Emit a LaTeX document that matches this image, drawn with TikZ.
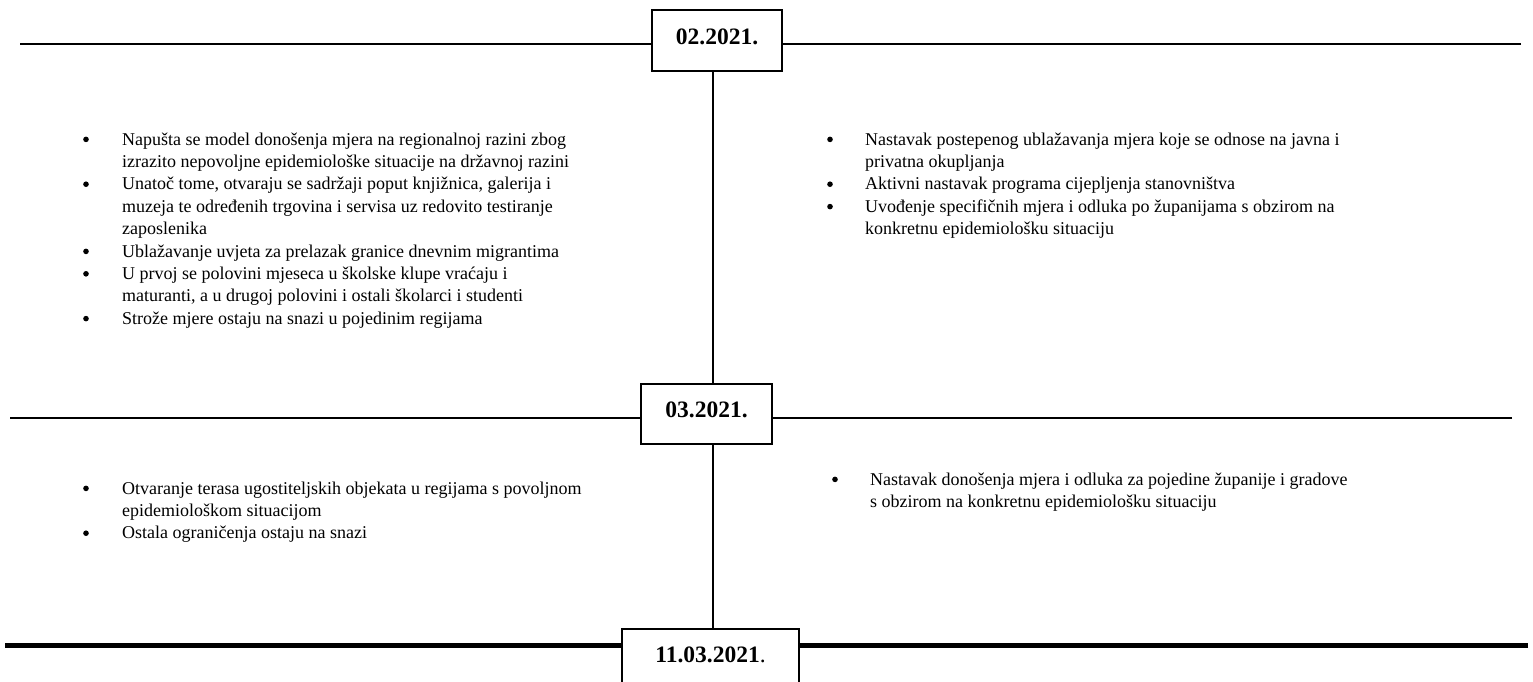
\documentclass[tikz,border=0pt]{standalone}
\usepackage{fontspec}
\setmainfont{Liberation Serif}
\newcommand{\tl}[4]{\node[txt] (#1) at (#2,#3) {#4};}
\newcommand{\bl}[3]{\node[bul] (#1) at (#2,#3) {};}
\begin{document}
\begin{tikzpicture}[x=1pt,y=-1pt,
  datebox/.style={draw, line width=1.8pt, inner sep=0pt, text height=16pt, text depth=9pt,
    font=\fontsize{23.5}{27}\selectfont\bfseries, fill=white},
  txt/.style={anchor=base west, inner sep=0pt, font=\fontsize{18}{22}\selectfont},
  bul/.style={circle, fill=black, inner sep=0pt, minimum size=5.6pt, yshift=5.6pt},
  thinline/.style={line width=1.2pt},
  thickline/.style={line width=5pt}]
\useasboundingbox (0,0) rectangle (1533,681);
\clip (0,0) rectangle (1533,681);
% boxes
\node[datebox, minimum width=130pt, minimum height=61pt] (b1) at (717,40.5) {02.2021.};
\node[datebox, minimum width=131pt, minimum height=60pt] (b2) at (706.5,414) {03.2021.};
\node[datebox, minimum width=177pt, minimum height=60pt] (b3) at (710.5,659) {\textbf{11.03.2021}\mdseries.};
% coordinates
\coordinate (vx) at (713,0);
\coordinate (l1a) at (20,44);
\coordinate (l1b) at (1521,44);
\coordinate (l2a) at (10,418);
\coordinate (l2b) at (1512,418);
\coordinate (l3a) at (5,645);
\coordinate (l3b) at (1528,645);
% lines
\draw[thinline] (l1a) -- (l1a -| b1.west);
\draw[thinline] (l1b) -- (l1b -| b1.east);
\draw[thinline] (l2a) -- (l2a -| b2.west);
\draw[thinline] (l2b) -- (l2b -| b2.east);
\draw[thickline] (l3a) -- (l3a -| b3.west);
\draw[thickline] (l3b) -- (l3b -| b3.east);
\draw[thinline] (b1.south -| vx) -- (b2.north -| vx);
\draw[thinline] (b2.south -| vx) -- (b3.north -| vx);
% block 1 left
\bl{p1}{86}{145}
\tl{a1}{122}{145}{Napušta se model donošenja mjera na regionalnoj razini zbog}
\tl{a2}{122}{167.4}{izrazito nepovoljne epidemiološke situacije na državnoj razini}
\bl{p2}{86}{189.8}
\tl{a3}{122}{189.8}{Unatoč tome, otvaraju se sadržaji poput knjižnica, galerija i}
\tl{a4}{122}{212.2}{muzeja te određenih trgovina i servisa uz redovito testiranje}
\tl{a5}{122}{234.6}{zaposlenika}
\bl{p3}{86}{257}
\tl{a6}{122}{257}{Ublažavanje uvjeta za prelazak granice dnevnim migrantima}
\bl{p4}{86}{279.4}
\tl{a7}{122}{279.4}{U prvoj se polovini mjeseca u školske klupe vraćaju i}
\tl{a8}{122}{301.8}{maturanti, a u drugoj polovini i ostali školarci i studenti}
\bl{p5}{86}{324.2}
\tl{a9}{122}{324.2}{Strože mjere ostaju na snazi u pojedinim regijama}
% block 1 right
\bl{q1}{830}{145}
\tl{c1}{865}{145}{Nastavak postepenog ublažavanja mjera koje se odnose na javna i}
\tl{c2}{865}{167.4}{privatna okupljanja}
\bl{q2}{830}{189.8}
\tl{c3}{865}{189.8}{Aktivni nastavak programa cijepljenja stanovništva}
\bl{q3}{830}{212.2}
\tl{c4}{865}{212.2}{Uvođenje specifičnih mjera i odluka po županijama s obzirom na}
\tl{c5}{865}{234.6}{konkretnu epidemiološku situaciju}
% block 2 left
\bl{r1}{86}{494}
\tl{d1}{122}{494}{Otvaranje terasa ugostiteljskih objekata u regijama s povoljnom}
\tl{d2}{122}{516.4}{epidemiološkom situacijom}
\bl{r2}{86}{538.8}
\tl{d3}{122}{538.8}{Ostala ograničenja ostaju na snazi}
% block 2 right
\bl{s1}{835}{485}
\tl{e1}{870}{485}{Nastavak donošenja mjera i odluka za pojedine županije i gradove}
\tl{e2}{870}{507.4}{s obzirom na konkretnu epidemiološku situaciju}
\end{tikzpicture}
\end{document}
